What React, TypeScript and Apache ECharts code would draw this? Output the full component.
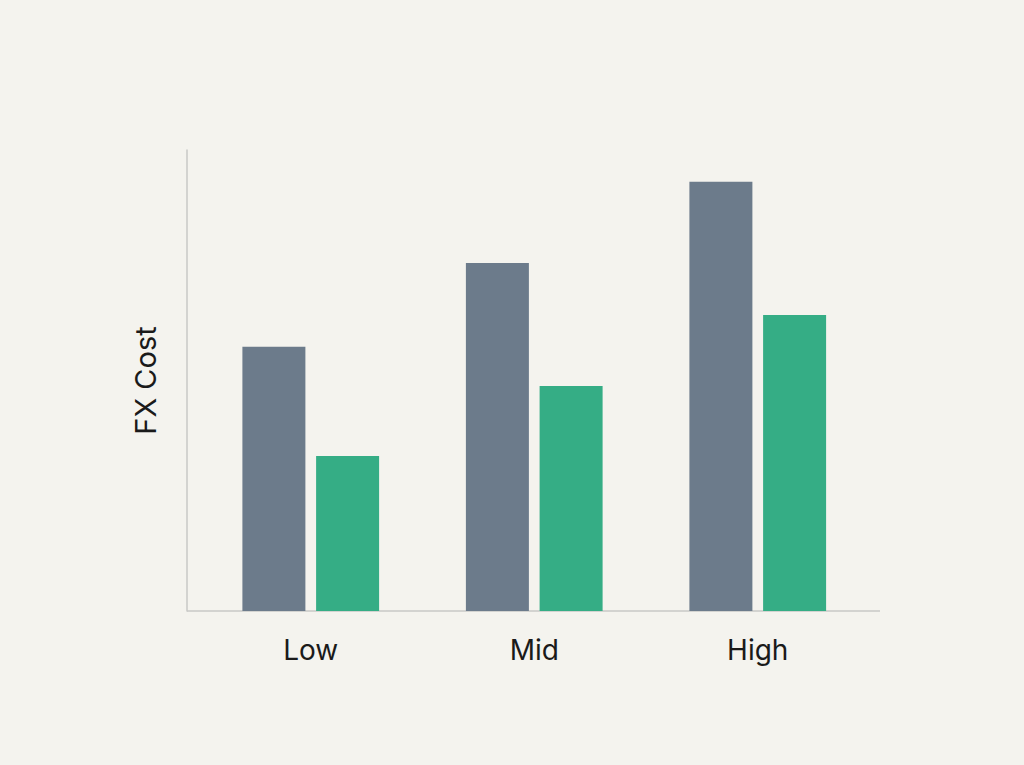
import React, { useEffect, useRef } from "react";
import * as echarts from "echarts";

const categories = ["Low", "Mid", "High"];
const seriesA = [57.3, 75.5, 93.1];
const seriesB = [33.6, 48.8, 64.2];
const axisName = "FX Cost";

export default function App() {
  const ref = useRef<HTMLDivElement>(null);
  useEffect(() => {
    document.body.style.margin = "0";
    document.body.style.background = "#f4f3ee";
    if (!ref.current) return;
    const chart = echarts.init(ref.current, undefined, { renderer: "svg" });
    chart.setOption({
      animation: false,
      backgroundColor: "#f4f3ee",
      textStyle: { fontFamily: "Inter" },
      grid: { left: 199, top: 150, width: 670.5, bottom: 154 },
      xAxis: {
        type: "category",
        data: categories,
        axisLine: { show: false },
        axisTick: { show: false },
        axisLabel: { color: "#1a1a1a", fontSize: 28, margin: 25 },
      },
      yAxis: {
        type: "value",
        min: 0,
        max: 100,
        offset: 12,
        name: axisName,
        nameLocation: "middle",
        nameGap: 27,
        nameTextStyle: { color: "#1a1a1a", fontSize: 29 },
        axisLine: { show: true, lineStyle: { color: "#c9c9c6", width: 1.5 } },
        axisTick: { show: false },
        axisLabel: { show: false },
        splitLine: { show: false },
      },
      graphic: [
        {
          type: "line",
          shape: { x1: 187, y1: 611, x2: 880, y2: 611 },
          style: { stroke: "#c9c9c6", lineWidth: 1.5 },
        },
      ],
      series: [
        {
          type: "bar",
          data: seriesA,
          barWidth: 63,
          barGap: "17%",
          itemStyle: { color: "#6c7b8b" },
        },
        {
          type: "bar",
          data: seriesB,
          barWidth: 63,
          itemStyle: { color: "#35ad85" },
        },
      ],
    });
    return () => chart.dispose();
  }, []);
  return <div ref={ref} style={{ width: 1024, height: 765 }} />;
}
